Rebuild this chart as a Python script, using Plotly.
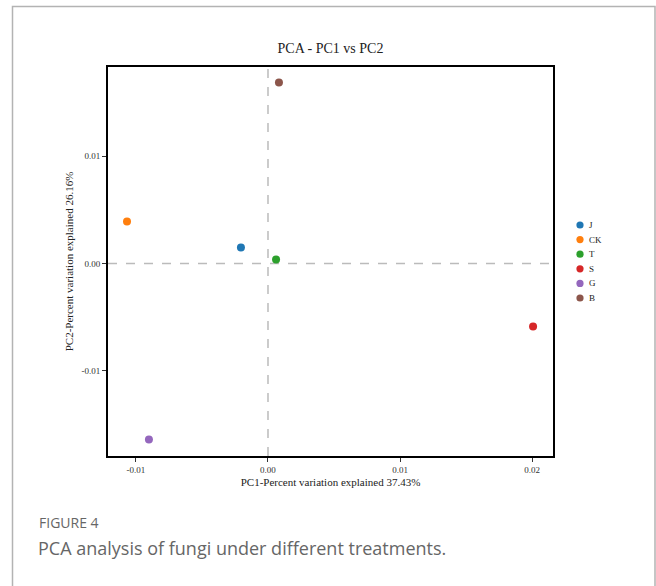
import plotly.graph_objects as go

groups = ["J", "CK", "T", "S", "G", "B"]
pc1 = [-0.00205, -0.01068, 0.00061, 0.02008, -0.00902, 0.00083]
pc2 = [0.00149, 0.0039, 0.00037, -0.00586, -0.01637, 0.01684]
colors = ["#1f77b4", "#ff7f0e", "#2ca02c", "#d62728", "#9467bd", "#8c564b"]
x_ticks = [-0.01, 0.0, 0.01, 0.02]
x_tick_labels = ["-0.01", "0.00", "0.01", "0.02"]
y_ticks = [-0.01, 0.0, 0.01]
y_tick_labels = ["-0.01", "0.00", "0.01"]

W, H = 656, 586
L, R, T, B = 108, 103, 67, 130
pw, ph = W - L - R, H - T - B

def px(x):
    return (x - L) / pw

def py(y):
    return (H - B - y) / ph

fig = go.Figure()
for g, xv, yv, c in zip(groups, pc1, pc2, colors):
    fig.add_trace(go.Scatter(x=[xv], y=[yv], mode="markers", name=g,
                             marker=dict(color=c, size=8), showlegend=False))

serif = "Liberation Serif, Times New Roman, serif"
fig.update_layout(
    width=W, height=H,
    margin=dict(l=L, r=R, t=T, b=B),
    paper_bgcolor="white", plot_bgcolor="white",
    font=dict(family=serif, color="#222"),
    title=dict(text="PCA - PC1 vs PC2", x=px(330.5), xref="paper", xanchor="center",
               y=1 - 48 / H, yanchor="middle", font=dict(size=14, family=serif, color="#222")),
    xaxis=dict(range=[-0.01212, 0.02159], tickvals=x_ticks, ticktext=x_tick_labels,
               showgrid=False, zeroline=False, showline=True, linecolor="black", linewidth=2,
               mirror=True, ticks="outside", ticklen=4, tickcolor="#333", tickwidth=1,
               tickfont=dict(size=9, family=serif, color="#333"),
               title=dict(text="PC1-Percent variation explained 37.43%",
                          font=dict(size=11, family=serif, color="#222"), standoff=5)),
    yaxis=dict(range=[-0.01791, 0.01828], tickvals=y_ticks, ticktext=y_tick_labels,
               showgrid=False, zeroline=False, showline=True, linecolor="black", linewidth=2,
               mirror=True, ticks="outside", ticklen=4, tickcolor="#333", tickwidth=1,
               tickfont=dict(size=9, family=serif, color="#333"),
               title=dict(text="PC2-Percent variation explained 26.16%",
                          font=dict(size=11, family=serif, color="#222"), standoff=6)),
    showlegend=False,
)

# dashed zero lines
fig.add_shape(type="line", xref="x", yref="paper", x0=0, x1=0, y0=0, y1=1,
              line=dict(color="#bbbbbb", width=1.5, dash="dash"), layer="below")
fig.add_shape(type="line", xref="paper", yref="y", x0=0, x1=1, y0=0, y1=0,
              line=dict(color="#bbbbbb", width=1.5, dash="dash"), layer="below")

# manual legend (compact spacing like the reference)
leg_x, leg_y0, leg_dy = 580, 225, 14.6
for i, (g, c) in enumerate(zip(groups, colors)):
    yc = leg_y0 + i * leg_dy
    fig.add_shape(type="circle", xref="paper", yref="paper",
                  x0=px(leg_x - 3.6), x1=px(leg_x + 3.6), y0=py(yc + 3.6), y1=py(yc - 3.6),
                  fillcolor=c, line=dict(width=0))
    fig.add_annotation(text=g, xref="paper", yref="paper", x=px(leg_x + 7), y=py(yc),
                       xanchor="left", yanchor="middle", showarrow=False,
                       font=dict(size=9, family=serif, color="#222"))

# card border
fig.add_shape(type="rect", xref="paper", yref="paper",
              x0=px(12.5), x1=px(655), y0=py(6.5), y1=py(600),
              line=dict(color="#b3b3b3", width=1.5), fillcolor="rgba(0,0,0,0)")

sans = "Open Sans, Noto Sans, sans-serif"
fig.add_annotation(text="FIGURE 4", xref="paper", yref="paper", x=px(37), y=py(522),
                   xanchor="left", yanchor="middle", showarrow=False,
                   font=dict(size=14, family=sans, color="#666"))
fig.add_annotation(text="PCA analysis of fungi under different treatments.", xref="paper",
                   yref="paper", x=px(36), y=py(548), xanchor="left", yanchor="middle",
                   showarrow=False, font=dict(size=18, family=sans, color="#666"))

fig.write_html("out.html")
